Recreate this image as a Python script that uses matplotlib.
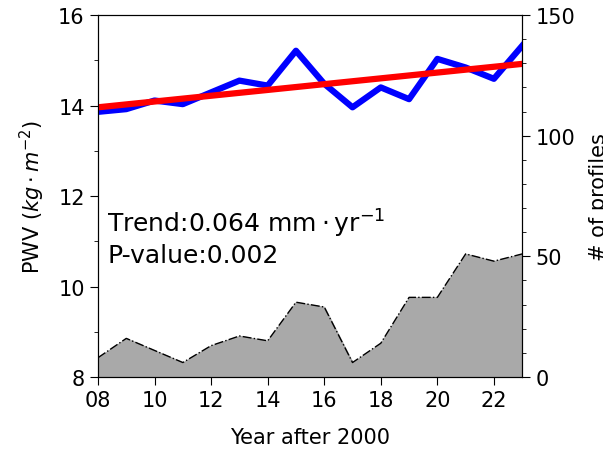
import matplotlib
matplotlib.use("Agg")
import matplotlib.pyplot as plt
from matplotlib.ticker import MultipleLocator, FuncFormatter
import numpy as np


# =========================
# Data
# =========================

years = [8, 9, 10, 11, 12, 13, 14, 15, 16, 17, 18, 19, 20, 21, 22, 23]

pwv = [13.86, 13.92, 14.11, 14.03, 14.29, 14.55, 14.44, 15.21,
       14.48, 13.96, 14.40, 14.14, 15.03, 14.84, 14.59, 15.32]

profiles = [8, 16, 11, 6, 13, 17, 15, 31, 29, 6, 14, 33, 33, 51, 48, 51]

trend_start = 13.96
trend_slope = 0.064
p_value = 0.002


# =========================
# Plot
# =========================

fig = plt.figure(figsize=(6.03, 4.52), dpi=100)
ax = fig.add_axes([0.1625, 0.1637, 0.7035, 0.8009])
ax2 = ax.twinx()

x = np.array(years)
trend = trend_start + trend_slope * (x - x[0])

ax2.fill_between(x, profiles, 0, color="darkgray", zorder=1)
ax2.plot(x, profiles, color="black", lw=1, ls="-.", zorder=2)

# keep the PWV lines above the filled area
ax.set_zorder(ax2.get_zorder() + 1)
ax.patch.set_visible(False)

ax.plot(x, pwv, color="blue", lw=4.5)
ax.plot(x, trend, color="red", lw=4.5)

ax.set_xlim(8, 23)
ax.set_ylim(8, 16)
ax2.set_ylim(0, 150)

ax.xaxis.set_major_locator(MultipleLocator(2))
ax.xaxis.set_major_formatter(FuncFormatter(lambda v, p: "%02d" % v))
ax.yaxis.set_major_locator(MultipleLocator(2))
ax.yaxis.set_minor_locator(MultipleLocator(1))
ax2.yaxis.set_major_locator(MultipleLocator(50))
ax2.yaxis.set_minor_locator(MultipleLocator(10))

for a in (ax, ax2):
    a.tick_params(which="major", labelsize=15, length=5.5, pad=4)
    a.tick_params(which="minor", length=3)

ax.set_xlabel("Year after 2000", fontsize=15, labelpad=12)
ax.set_ylabel(r"PWV ($kg\cdot m^{-2}$)", fontsize=15, labelpad=8)
ax2.set_ylabel("# of profiles", fontsize=15, labelpad=10)

ax.text(0.022, 0.425,
        r"Trend:%.3f $\mathrm{mm \cdot yr^{-1}}$" % trend_slope,
        transform=ax.transAxes, fontsize=18, va="center")
ax.text(0.022, 0.337,
        "P-value:%.3f" % p_value,
        transform=ax.transAxes, fontsize=18, va="center")

fig.savefig("out.png", dpi=100)
